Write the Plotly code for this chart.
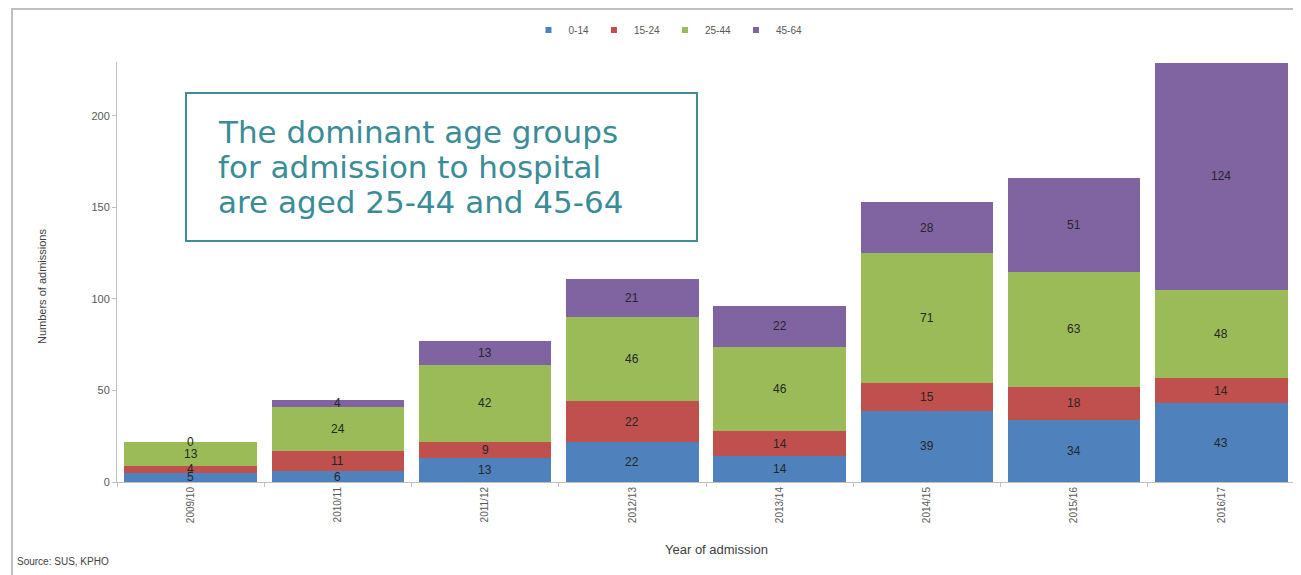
import plotly.graph_objects as go

years = ["2009/10", "2010/11", "2011/12", "2012/13", "2013/14", "2014/15", "2015/16", "2016/17"]
age_0_14 = [5, 6, 13, 22, 14, 39, 34, 43]
age_15_24 = [4, 11, 9, 22, 14, 15, 18, 14]
age_25_44 = [13, 24, 42, 46, 46, 71, 63, 48]
age_45_64 = [0, 4, 13, 21, 22, 28, 51, 124]

series = [
    ("0-14", age_0_14, "#4F81BD"),
    ("15-24", age_15_24, "#C0504D"),
    ("25-44", age_25_44, "#9BBB59"),
    ("45-64", age_45_64, "#8064A2"),
]

callout_lines = ["The dominant age groups", "for admission to hospital", "are aged 25-44 and 45-64"]

OFF = 8  # page body margin
W, H = 1301 - OFF, 575 - OFF
L, R, T, B = 117 - OFF, 6, 62 - OFF, 93
pw, ph = W - L - R, H - T - B


def px(x):
    return (x - OFF - L) / pw


def py(y):
    return (T + ph - (y - OFF)) / ph


fig = go.Figure()
annotations = []
base = [0] * len(years)
for name, vals, color in series:
    fig.add_trace(go.Bar(x=years, y=vals, name=name, showlegend=False,
                         marker=dict(color=color, line=dict(width=0))))
    fig.add_trace(go.Scatter(x=[None], y=[None], mode="markers", name=name,
                             marker=dict(symbol="square", size=6, color=color)))
    for i, v in enumerate(vals):
        annotations.append(dict(x=years[i], y=base[i] + v / 2, xref="x", yref="y", text=str(v),
                                showarrow=False, font=dict(size=12, color="#262626", family="Liberation Sans")))
        base[i] += v

annotations += [
    dict(x=px(42), y=py(287), xref="paper", yref="paper", text="Numbers of admissions", textangle=-90,
         xanchor="center", yanchor="middle", showarrow=False,
         font=dict(size=11, color="#404040", family="Liberation Sans Narrow, Liberation Sans")),
    dict(x=px(716), y=py(549), xref="paper", yref="paper", text="Year of admission",
         xanchor="center", yanchor="middle", showarrow=False,
         font=dict(size=13, color="#404040", family="Liberation Sans Narrow, Liberation Sans")),
    dict(x=px(15), y=py(561), xref="paper", yref="paper", text="Source: SUS, KPHO", xanchor="left",
         yanchor="middle", showarrow=False,
         font=dict(size=10, color="#404040", family="Liberation Sans Narrow, Liberation Sans")),
]
for k, line in enumerate(callout_lines):
    annotations.append(dict(x=px(216), y=py(132 + 35 * k), xref="paper", yref="paper", xanchor="left",
                            yanchor="middle", align="left", text=line, showarrow=False,
                            font=dict(size=31, color="#3B8C99", family="DejaVu Sans")))

shapes = [
    dict(type="rect", xref="paper", yref="paper", x0=px(12), x1=1.02, y0=-0.4, y1=py(9),
         line=dict(color="#BFBFBF", width=2), fillcolor="rgba(0,0,0,0)", layer="below"),
    dict(type="rect", xref="paper", yref="paper", x0=px(186), x1=px(697), y0=py(241), y1=py(93),
         line=dict(color="#3E8E93", width=2), fillcolor="white"),
]

fig.update_layout(
    barmode="stack",
    bargap=0.1,
    width=W, height=H,
    margin=dict(l=L, r=R, t=T, b=B),
    paper_bgcolor="white", plot_bgcolor="white",
    font=dict(family="Liberation Sans Narrow, Liberation Sans", color="#595959"),
    showlegend=True,
    legend=dict(orientation="h", x=px(668), xanchor="center", y=py(30), yanchor="middle",
                traceorder="normal", font=dict(size=10, color="#595959"), itemwidth=30,
                itemclick=False),
    xaxis=dict(tickangle=-90, showline=True, linecolor="#BFBFBF", linewidth=1, ticks="outside",
               tickson="boundaries", tickcolor="#BFBFBF", ticklen=4, tickfont=dict(size=10, color="#595959"),
               showgrid=False),
    yaxis=dict(range=[0, 229.5], tickvals=[0, 50, 100, 150, 200], showline=True, linecolor="#BFBFBF",
               linewidth=1, ticks="outside", tickcolor="#BFBFBF", ticklen=4, showgrid=False, zeroline=False,
               tickfont=dict(size=11, color="#595959")),
    annotations=annotations,
    shapes=shapes,
)

fig.write_html("out.html")
